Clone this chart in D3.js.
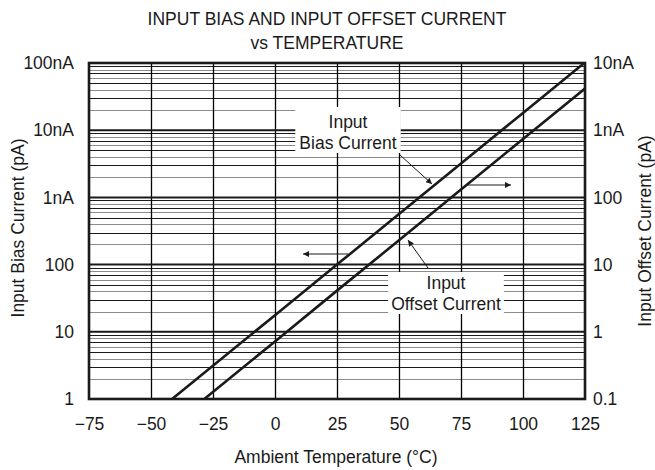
<!DOCTYPE html>
<html><head><meta charset="utf-8">
<script src="https://cdn.jsdelivr.net/npm/d3@7"></script>
<style>
html,body{margin:0;padding:0;background:#fff;}
svg{display:block;font-family:"Liberation Sans",Arial,Helvetica,sans-serif;}
</style></head>
<body>
<svg id="c" width="655" height="470"></svg>
<script>
// ---- data ----
const titleLines = ["INPUT BIAS AND INPUT OFFSET CURRENT", "vs TEMPERATURE"];
const xTicks = [-75, -50, -25, 0, 25, 50, 75, 100, 125];
const leftTickValues = [1, 10, 100, 1000, 10000, 100000];          // pA
const leftTickLabels = ["1", "10", "100", "1nA", "10nA", "100nA"];
const rightTickValues = [0.1, 1, 10, 100, 1000, 10000];            // pA
const rightTickLabels = ["0.1", "1", "10", "100", "1nA", "10nA"];
// Input bias current (pA, left axis)
const biasTemp = [-41.5, 0, 25, 50, 75, 100, 125];
const biasValue = [1, 17.7, 100, 566, 3200, 18100, 102000];
// Input offset current (pA, right axis)
const offsetTemp = [-28.5, 0, 25, 50, 75, 100, 125];
const offsetValue = [0.1, 0.72, 4.1, 23, 131, 740, 4180];

const xLabel = "Ambient Temperature (\u00B0C)";
const yLeftLabel = "Input Bias Current (pA)";
const yRightLabel = "Input Offset Current (pA)";

// ---- layout ----
const L = 89, R = 585, T = 63, B = 399;
const FS = 17.5;
const svg = d3.select("#c");
const ink = "#1a1a1a";

const x = d3.scaleLinear().domain([-75, 125]).range([L, R]);
const yL = d3.scaleLog().domain([1, 100000]).range([B, T]);
const yR = d3.scaleLog().domain([0.1, 10000]).range([B, T]);

// minor gridlines
const g = svg.append("g");
for (let d = 0; d < 5; d++) {
  const base = Math.pow(10, d);
  for (let m = 2; m <= 9; m++) {
    const yy = Math.round(yL(base * m)) + 0.5;
    g.append("line").attr("x1", L).attr("x2", R).attr("y1", yy).attr("y2", yy)
      .attr("stroke", m % 2 === 0 ? "#8c8c8c" : ink).attr("stroke-width", 1);
  }
}
// vertical gridlines
xTicks.slice(1, -1).forEach(t => {
  const xx = Math.round(x(t)) + 0.5;
  g.append("line").attr("x1", xx).attr("x2", xx).attr("y1", T).attr("y2", B)
    .attr("stroke", "#000").attr("stroke-width", 1.3);
});
// major gridlines
leftTickValues.forEach(v => {
  g.append("line").attr("x1", L).attr("x2", R).attr("y1", yL(v)).attr("y2", yL(v))
    .attr("stroke", ink).attr("stroke-width", 2);
});

// label boxes (white background)
function labelBox(cx, lines, y0, padX, top, bottom) {
  const grp = svg.append("g");
  const tmp = grp.selectAll("text").data(lines).join("text")
    .attr("x", cx).attr("y", (d, i) => y0 + i * 21)
    .attr("text-anchor", "middle").attr("font-size", FS).attr("fill", ink).text(d => d);
  let w = 0;
  tmp.each(function(){ w = Math.max(w, this.getBBox().width); });
  grp.insert("rect", "text").attr("x", cx - w / 2 - padX).attr("y", top)
    .attr("width", w + 2 * padX).attr("height", bottom - top).attr("fill", "#fff");
  return grp;
}

// data lines
svg.append("clipPath").attr("id", "pc").append("rect")
  .attr("x", L).attr("y", T).attr("width", R - L).attr("height", B - T);
const line = (ys) => d3.line().x(d => x(d[0])).y(d => ys(d[1]));
svg.append("path").datum(d3.zip(biasTemp, biasValue)).attr("d", line(yL))
  .attr("fill", "none").attr("stroke", ink).attr("stroke-width", 2.6).attr("clip-path", "url(#pc)");
svg.append("path").datum(d3.zip(offsetTemp, offsetValue)).attr("d", line(yR))
  .attr("fill", "none").attr("stroke", ink).attr("stroke-width", 2.6).attr("clip-path", "url(#pc)");

// labels
labelBox(348, ["Input", "Bias Current"], 128, 4, 107, 153);
labelBox(446, ["Input", "Offset Current"], 289, 3, 272, 314);

// arrows
const defs = svg.append("defs");
defs.append("marker").attr("id", "ah").attr("viewBox", "0 0 10 10").attr("refX", 10).attr("refY", 5)
  .attr("markerWidth", 11).attr("markerHeight", 6).attr("markerUnits", "userSpaceOnUse")
  .attr("orient", "auto").append("path").attr("d", "M0,0 L10,5 L0,10 z").attr("fill", ink);
function arrow(x1, y1, x2, y2) {
  svg.append("line").attr("x1", x1).attr("y1", y1).attr("x2", x2).attr("y2", y2)
    .attr("stroke", ink).attr("stroke-width", 1).attr("marker-end", "url(#ah)");
}
arrow(400, 155, 432, 184);
arrow(467, 185, 511, 185);
arrow(348, 254, 303, 254);
arrow(428, 268, 408, 240);

// frame
svg.append("rect").attr("x", L).attr("y", T).attr("width", R - L).attr("height", B - T)
  .attr("fill", "none").attr("stroke", ink).attr("stroke-width", 2.6);

// axes (tick labels via d3 axes, no tick lines)
const xAxis = d3.axisBottom(x).tickValues(xTicks).tickSize(0).tickPadding(19)
  .tickFormat(d => d < 0 ? "\u2212" + Math.abs(d) : String(d));
const ax = svg.append("g").attr("transform", `translate(0,${B})`).call(xAxis);
const lAxis = d3.axisLeft(yL).tickValues(leftTickValues).tickSize(0).tickPadding(15)
  .tickFormat((d, i) => leftTickLabels[i]);
const al = svg.append("g").attr("transform", `translate(${L},0)`).call(lAxis);
const rAxis = d3.axisRight(yR).tickValues(rightTickValues).tickSize(0).tickPadding(8)
  .tickFormat((d, i) => rightTickLabels[i]);
const ar = svg.append("g").attr("transform", `translate(${R},0)`).call(rAxis);
[ax, al, ar].forEach(a => {
  a.select(".domain").remove();
  a.attr("font-size", FS).attr("font-family", "'Liberation Sans',Arial,sans-serif");
  a.selectAll("text").attr("fill", ink);
});

// titles
svg.selectAll("text.title").data(titleLines).join("text").attr("class", "title")
  .attr("x", 327).attr("y", (d, i) => 25 + i * 24).attr("text-anchor", "middle")
  .attr("font-size", FS).attr("fill", ink).text(d => d);
svg.append("text").attr("x", 336).attr("y", 463).attr("text-anchor", "middle")
  .attr("font-size", FS).attr("fill", ink).text(xLabel);
svg.append("text").attr("transform", "translate(24,228) rotate(-90)").attr("text-anchor", "middle")
  .attr("font-size", FS).attr("fill", ink).text(yLeftLabel);
svg.append("text").attr("transform", "translate(651,231) rotate(-90)").attr("text-anchor", "middle")
  .attr("font-size", FS).attr("fill", ink).text(yRightLabel);
</script>
</body></html>
